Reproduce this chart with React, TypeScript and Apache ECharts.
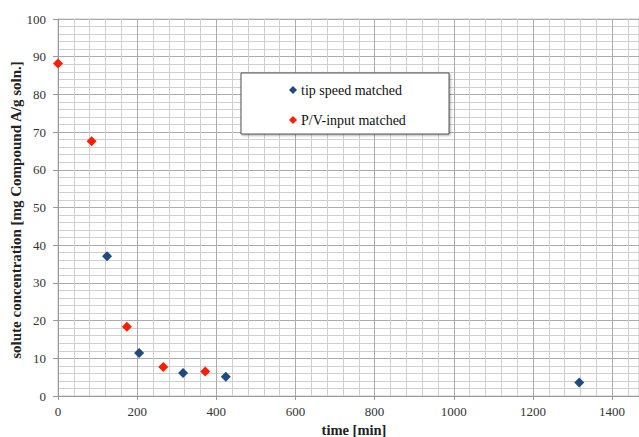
import React, { useEffect, useRef } from "react";
import * as echarts from "echarts";

const tipSpeedTime = [124, 205, 316, 424, 1317];
const tipSpeedConc = [37.1, 11.4, 6.1, 5.1, 3.6];
const pvTime = [0, 85, 174, 266, 372];
const pvConc = [88.2, 67.6, 18.4, 7.7, 6.5];
const seriesNames = ["tip speed matched", "P/V-input matched"];
const xTitle = "time [min]";
const yTitle = "solute concentration [mg Compound A/g soln.]";

const serif = "Liberation Serif";
const labelRich = { s: { fontFamily: serif, fontSize: 13, color: "#333" } };

export default function App() {
  const ref = useRef<HTMLDivElement>(null);
  useEffect(() => {
    if (!ref.current) return;
    const chart = echarts.init(ref.current, undefined, { renderer: "svg" });
    chart.setOption({
      animation: false,
      backgroundColor: "#ffffff",
      textStyle: { fontFamily: serif },
      grid: { left: 58, top: 19, right: 0, bottom: 41, show: true, borderColor: "#c8c8c8", borderWidth: 1 },
      xAxis: {
        type: "value",
        min: 0,
        max: 1468,
        interval: 200,
        axisLine: { show: true, lineStyle: { color: "#999" } },
        axisTick: { show: true, length: 4, lineStyle: { color: "#999" } },
        axisLabel: {
          fontFamily: serif, fontSize: 13, color: "#333", margin: 9, showMaxLabel: false,
          formatter: (v: number) => (v % 200 === 0 ? "{s|" + v + "}" : ""),
          rich: labelRich,
        },
        splitLine: { show: true, lineStyle: { color: "#ababab", width: 1 } },
        minorTick: { show: false, splitNumber: 5 },
        minorSplitLine: { show: true, lineStyle: { color: "#cfcfcf", width: 1 } },
      },
      yAxis: {
        type: "value",
        min: 0,
        max: 100,
        interval: 10,
        axisLine: { show: true, lineStyle: { color: "#999" } },
        axisTick: { show: true, length: 5, lineStyle: { color: "#999" } },
        axisLabel: {
          fontFamily: serif, fontSize: 13, color: "#333", margin: 12,
          formatter: (v: number) => "{s|" + v + "}",
          rich: labelRich,
        },
        splitLine: { show: true, lineStyle: { color: "#ababab", width: 1 } },
        minorTick: { show: false, splitNumber: 5 },
        minorSplitLine: { show: true, lineStyle: { color: "#cfcfcf", width: 1 } },
      },
      graphic: [
        {
          type: "rect",
          shape: { x: 241, y: 73, width: 208, height: 61 },
          style: { fill: "#ffffff", stroke: "#555", lineWidth: 1, shadowBlur: 2, shadowOffsetX: 1, shadowOffsetY: 1, shadowColor: "rgba(0,0,0,0.35)" },
          z: 10,
        },
        {
          type: "text",
          x: 16,
          y: 210,
          rotation: Math.PI / 2,
          style: {
            text: yTitle, fontFamily: serif, fontWeight: "bold", fontSize: 15, fill: "#222",
            align: "center", verticalAlign: "middle",
          },
          z: 10,
        },
        {
          type: "text",
          x: 354,
          y: 430,
          style: {
            text: xTitle, fontFamily: serif, fontWeight: "bold", fontSize: 14.5, fill: "#222",
            align: "center", verticalAlign: "middle",
          },
          z: 10,
        },
      ],
      legend: {
        orient: "vertical",
        left: 284,
        top: 78,
        itemWidth: 8,
        itemHeight: 8,
        itemGap: 16,
        z: 20,
        textStyle: { fontFamily: serif, fontSize: 14, color: "#111", padding: [0, 0, 0, -1] },
        data: [
          { name: seriesNames[0], icon: "diamond" },
          { name: seriesNames[1], icon: "diamond" },
        ],
      },
      series: [
        {
          name: seriesNames[0],
          type: "scatter",
          symbol: "diamond",
          symbolSize: 10,
          itemStyle: { color: "#1f4a7e", opacity: 1 },
          data: tipSpeedTime.map((t, i) => [t, tipSpeedConc[i]]),
        },
        {
          name: seriesNames[1],
          type: "scatter",
          symbol: "diamond",
          symbolSize: 10,
          itemStyle: { color: "#ff1e00", opacity: 1 },
          data: pvTime.map((t, i) => [t, pvConc[i]]),
        },
      ],
    });
    return () => chart.dispose();
  }, []);
  return <div ref={ref} style={{ width: 639, height: 437, position: "fixed", left: 0, top: 0 }} />;
}
